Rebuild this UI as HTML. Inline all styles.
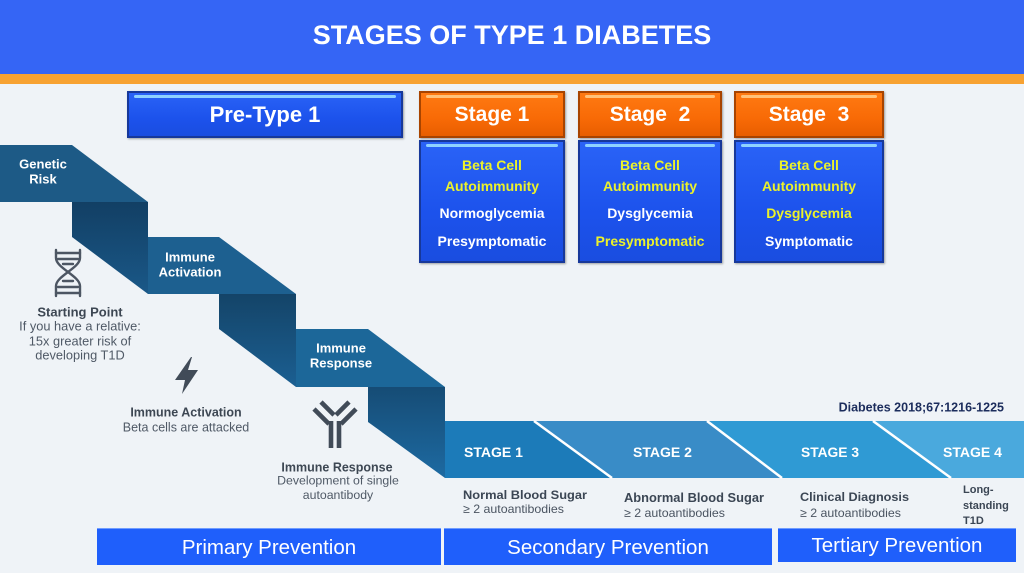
<!DOCTYPE html>
<html>
<head>
<meta charset="utf-8">
<style>
  html,body{margin:0;padding:0;}
  body{width:1024px;height:573px;position:relative;overflow:hidden;background:#eff3f7;font-family:"Liberation Sans",Arial,sans-serif;}
  .hdr{position:absolute;left:0;top:0;width:1024px;height:74px;background:#3565f5;}
  .org{position:absolute;left:0;top:74px;width:1024px;height:10px;background:#f7a232;}
  .title{position:absolute;left:0;top:0;width:1024px;height:71px;line-height:71px;text-align:center;color:#fff;font-weight:bold;font-size:27px;}
  .box{position:absolute;box-sizing:border-box;}
  .bl{background:linear-gradient(#2a63f7,#1c52ec 60%,#1a4de0);border:2px solid #17389a;box-shadow:1px 1px 2px rgba(0,0,0,.35);}
  .or{background:linear-gradient(#ff7a12,#f86a06 60%,#e85e00);border:2px solid #a84400;box-shadow:1px 1px 2px rgba(0,0,0,.35);}
  .bl::before,.or::before{content:"";position:absolute;left:5px;right:5px;top:2px;height:3px;border-radius:2px;}
  .bl::before{background:#8fd2ff;}
  .or::before{background:#ffc27a;}
  .bt{position:absolute;left:0;width:100%;text-align:center;color:#fff;font-weight:bold;}
  .hd{font-size:21px;top:0;line-height:44px;}
  .ln{font-size:14px;line-height:18px;}
  .y{color:#ecf22a;}
  .pv{position:absolute;background:#1f5ffb;border-top:1px solid #6f9cff;box-sizing:border-box;color:#fff;text-align:center;font-size:20.5px;}
</style>
</head>
<body>
<div class="hdr"></div>
<div class="org"></div>
<div class="title">STAGES OF TYPE 1 DIABETES</div>

<div class="box bl" style="left:127px;top:91px;width:276px;height:47px;"><div class="bt hd" style="font-size:22px;">Pre-Type 1</div></div>

<div class="box or" style="left:419px;top:91px;width:146px;height:47px;"><div class="bt hd">Stage 1</div></div>
<div class="box or" style="left:578px;top:91px;width:144px;height:47px;"><div class="bt hd">Stage&nbsp; 2</div></div>
<div class="box or" style="left:734px;top:91px;width:150px;height:47px;"><div class="bt hd">Stage&nbsp; 3</div></div>

<div class="box bl" style="left:419px;top:140px;width:146px;height:123px;">
  <div class="bt ln y" style="top:14px;">Beta Cell</div>
  <div class="bt ln y" style="top:35px;">Autoimmunity</div>
  <div class="bt ln" style="top:62px;">Normoglycemia</div>
  <div class="bt ln" style="top:90px;">Presymptomatic</div>
</div>
<div class="box bl" style="left:578px;top:140px;width:144px;height:123px;">
  <div class="bt ln y" style="top:14px;">Beta Cell</div>
  <div class="bt ln y" style="top:35px;">Autoimmunity</div>
  <div class="bt ln" style="top:62px;">Dysglycemia</div>
  <div class="bt ln y" style="top:90px;">Presymptomatic</div>
</div>
<div class="box bl" style="left:734px;top:140px;width:150px;height:123px;">
  <div class="bt ln y" style="top:14px;">Beta Cell</div>
  <div class="bt ln y" style="top:35px;">Autoimmunity</div>
  <div class="bt ln y" style="top:62px;">Dysglycemia</div>
  <div class="bt ln" style="top:90px;">Symptomatic</div>
</div>

<svg width="1024" height="573" viewBox="0 0 1024 573" style="position:absolute;left:0;top:0;" font-family="Liberation Sans, Arial, sans-serif">
  <defs>
    <linearGradient id="r1" x1="0" y1="0" x2="0" y2="1">
      <stop offset="0" stop-color="#123f64"/><stop offset="1" stop-color="#1a5888"/>
    </linearGradient>
    <linearGradient id="r2" x1="0" y1="0" x2="0" y2="1">
      <stop offset="0" stop-color="#144468"/><stop offset="1" stop-color="#1b5f92"/>
    </linearGradient>
    <linearGradient id="r3" x1="0" y1="0" x2="0" y2="1">
      <stop offset="0" stop-color="#164c75"/><stop offset="1" stop-color="#1d6aa2"/>
    </linearGradient>
  </defs>
  <!-- staircase -->
  <polygon points="0,145 72,145 148,202 0,202" fill="#1d5a86"/>
  <polygon points="72,202 148,202 148,294 72,237" fill="url(#r1)"/>
  <polygon points="148,237 219,237 296,294 148,294" fill="#1d6090"/>
  <polygon points="219,294 296,294 296,387 219,329" fill="url(#r2)"/>
  <polygon points="296,329 368,329 445,387 296,387" fill="#1c6799"/>
  <polygon points="368,387 445,387 445,478 368,422" fill="url(#r3)"/>
  <!-- stage band -->
  <polygon points="445,421 534,421 612,478 445,478" fill="#1c7bb9"/>
  <polygon points="534,421 707,421 782,478 612,478" fill="#398cc7"/>
  <polygon points="707,421 873,421 951,478 782,478" fill="#2f9ad4"/>
  <polygon points="873,421 1024,421 1024,478 951,478" fill="#4aa9dd"/>
  <g stroke="#ffffff" stroke-width="2.5">
    <line x1="534" y1="421" x2="612" y2="478"/>
    <line x1="707" y1="421" x2="782" y2="478"/>
    <line x1="873" y1="421" x2="951" y2="478"/>
  </g>

  <!-- staircase labels -->
  <g fill="#ffffff" font-weight="bold" font-size="13" text-anchor="middle">
    <text x="43" y="168.5">Genetic</text>
    <text x="43" y="183.5">Risk</text>
    <text x="190" y="261.5">Immune</text>
    <text x="190" y="276.5">Activation</text>
    <text x="341" y="352.5">Immune</text>
    <text x="341" y="367.5">Response</text>
  </g>
  <g fill="#ffffff" font-weight="bold" font-size="14">
    <text x="464" y="457" textLength="59" lengthAdjust="spacingAndGlyphs">STAGE 1</text>
    <text x="633" y="457" textLength="59" lengthAdjust="spacingAndGlyphs">STAGE 2</text>
    <text x="801" y="457" textLength="58" lengthAdjust="spacingAndGlyphs">STAGE 3</text>
    <text x="943" y="457" textLength="59" lengthAdjust="spacingAndGlyphs">STAGE 4</text>
  </g>

  <!-- DNA icon -->
  <g stroke="#4d5663" stroke-width="2.4" fill="none" stroke-linecap="round">
    <path d="M56,250 L56,258 C56,268 80,276 80,286 L80,296"/>
    <path d="M80,250 L80,258 C80,268 56,276 56,286 L56,296"/>
    <line x1="56" y1="253" x2="80" y2="253"/>
    <line x1="58" y1="259" x2="78" y2="259"/>
    <line x1="63" y1="264" x2="73" y2="264"/>
    <line x1="63" y1="281" x2="73" y2="281"/>
    <line x1="58" y1="287" x2="78" y2="287"/>
    <line x1="56" y1="293" x2="80" y2="293"/>
  </g>
  <!-- lightning -->
  <polygon points="191,357 175,380 185,380 182,394 198,370 188,370 192,357" fill="#414b58"/>
  <!-- antibody -->
  <g stroke="#414b58" stroke-width="4.6" fill="none">
    <line x1="331" y1="421" x2="331" y2="448"/>
    <line x1="339" y1="421" x2="339" y2="448"/>
    <line x1="314" y1="409" x2="329" y2="424"/>
    <line x1="321" y1="402" x2="334" y2="415"/>
    <line x1="356" y1="409" x2="341" y2="424"/>
    <line x1="349" y1="402" x2="336" y2="415"/>
  </g>

  <!-- descriptive texts -->
  <g text-anchor="middle">
    <text x="80" y="316.5" font-size="13" font-weight="bold" fill="#3d4753">Starting Point</text>
    <text x="80" y="330.5" font-size="12.8" fill="#4f5966">If you have a relative:</text>
    <text x="80" y="345.5" font-size="12.8" fill="#4f5966">15x greater risk of</text>
    <text x="80" y="359.5" font-size="12.8" fill="#4f5966">developing T1D</text>
    <text x="186" y="416.5" font-size="12.5" font-weight="bold" fill="#3d4753">Immune Activation</text>
    <text x="186" y="431.5" font-size="12.5" fill="#4f5966">Beta cells are attacked</text>
    <text x="337" y="471.5" font-size="12.5" font-weight="bold" fill="#3d4753">Immune Response</text>
    <text x="338" y="484.5" font-size="12.3" fill="#4f5966">Development of single</text>
    <text x="338" y="499" font-size="12.3" fill="#4f5966">autoantibody</text>
  </g>

  <text x="1004" y="411.5" text-anchor="end" font-size="12.5" font-weight="bold" fill="#1b2c5c">Diabetes 2018;67:1216-1225</text>

  <g fill="#3b4654" font-weight="bold">
    <text x="463" y="499" font-size="12.2" textLength="124" lengthAdjust="spacingAndGlyphs">Normal Blood Sugar</text>
    <text x="624" y="502" font-size="12.5" textLength="140" lengthAdjust="spacingAndGlyphs">Abnormal Blood Sugar</text>
    <text x="800" y="501" font-size="12.2" textLength="109" lengthAdjust="spacingAndGlyphs">Clinical Diagnosis</text>
    <text x="963" y="493" font-size="11">Long-</text>
    <text x="963" y="509" font-size="11">standing</text>
    <text x="963" y="524" font-size="11">T1D</text>
  </g>
  <g fill="#4a5461" font-size="12">
    <text x="463" y="513" textLength="101" lengthAdjust="spacingAndGlyphs">≥ 2 autoantibodies</text>
    <text x="624" y="517" textLength="101" lengthAdjust="spacingAndGlyphs">≥ 2 autoantibodies</text>
    <text x="800" y="517" textLength="101" lengthAdjust="spacingAndGlyphs">≥ 2 autoantibodies</text>
  </g>
</svg>

<div class="pv" style="left:97px;top:528px;width:344px;height:37px;line-height:37px;">Primary Prevention</div>
<div class="pv" style="left:444px;top:528px;width:328px;height:37px;line-height:37px;">Secondary Prevention</div>
<div class="pv" style="left:778px;top:528px;width:238px;height:34px;line-height:34px;">Tertiary Prevention</div>
</body>
</html>
